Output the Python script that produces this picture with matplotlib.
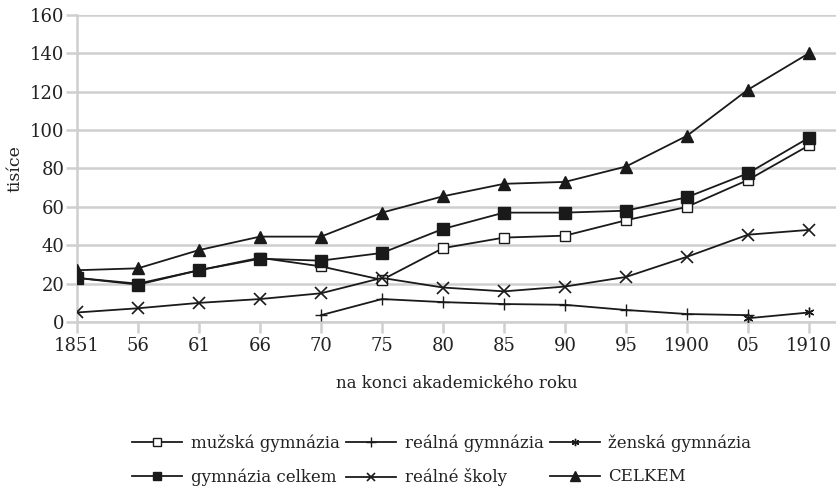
import numpy as np
import matplotlib.pyplot as plt

# roky (konec akademického roku)
years = ["1851", "56", "61", "66", "70", "75", "80", "85", "90", "95", "1900", "05", "1910"]

# hodnoty v tisících, None = bez údaje
muzska = [23, 20, 27, 33.5, 29, 22, 38.5, 44, 45, 53, 60, 74, 92]
realna_gym = [None, None, None, None, 3.6, 12, 10.4, 9.4, 9, 6.3, 4.2, 3.6, None]
zenska = [None, None, None, None, None, None, None, None, None, None, None, 2, 5]
gym_celkem = [23, 19.5, 27, 33, 32, 36, 48.5, 57, 57, 58, 65, 77.5, 96]
realne_skoly = [5, 7.2, 10, 12, 15, 23, 18, 16, 18.5, 23.5, 34, 45.5, 48]
celkem = [27, 28, 37.5, 44.5, 44.5, 57, 65.5, 72, 73, 81, 97, 121, 140]

plt.rcParams['font.family'] = ['DejaVu Serif']

fig = plt.figure(figsize=(8.37, 4.94), dpi=100)
ax = fig.add_axes([0.092, 0.348, 0.908, 0.622])

x = np.arange(len(years))
def arr(v):
    return np.array([np.nan if a is None else a for a in v], float)

k = '#1a1a1a'
lw = 1.3
ax.plot(x, arr(muzska), color=k, lw=lw, marker='s', ms=7, mfc='white', mec=k, mew=1, label='mužská gymnázia', zorder=3)
ax.plot(x, arr(gym_celkem), color=k, lw=lw, marker='s', ms=8, mfc=k, mec=k, label='gymnázia celkem', zorder=4)
ax.plot(x, arr(realna_gym), color=k, lw=lw, marker='+', ms=9, mew=1, label='reálná gymnázia', zorder=3)
ax.plot(x, arr(realne_skoly), color=k, lw=lw, marker='x', ms=8, mew=1.2, label='reálné školy', zorder=3)
ax.plot(x, arr(zenska), color=k, lw=lw, marker=(6, 2, 0), ms=7, mew=1, label='ženská gymnázia', zorder=3)
ax.plot(x, arr(celkem), color=k, lw=lw, marker='^', ms=9, mfc=k, mec=k, label='CELKEM', zorder=4)

grey = '#cfcfcf'
txt = '#222222'
ax.set_xlim(0, 12.46)
ax.set_ylim(0, 160)
ax.set_yticks(range(0, 161, 20))
ax.set_xticks(x)
ax.set_xticklabels(years)
ax.grid(axis='y', color=grey, lw=1.8)
ax.set_axisbelow(True)
for s in ['top', 'right']:
    ax.spines[s].set_visible(False)
for s in ['left', 'bottom']:
    ax.spines[s].set_color(grey)
    ax.spines[s].set_linewidth(1.8)
ax.tick_params(axis='both', colors=grey, length=8, width=1.8, labelsize=13, labelcolor=txt)
ax.tick_params(axis='y', pad=1)
ax.tick_params(axis='x', pad=3)

ax.set_xlabel('na konci akademického roku', fontsize=12, color=txt, labelpad=14)
ax.set_ylabel('tisíce', fontsize=12.5, color=txt, labelpad=5)

leg = fig.legend(loc='center', bbox_to_anchor=(0.528, 0.068), ncol=3, frameon=False,
                 fontsize=12, handlelength=3, handletextpad=0.5, columnspacing=0.4,
                 labelspacing=1.0, markerscale=0.75)
for t in leg.get_texts():
    t.set_color(txt)

fig.savefig('out.png', dpi=100)
